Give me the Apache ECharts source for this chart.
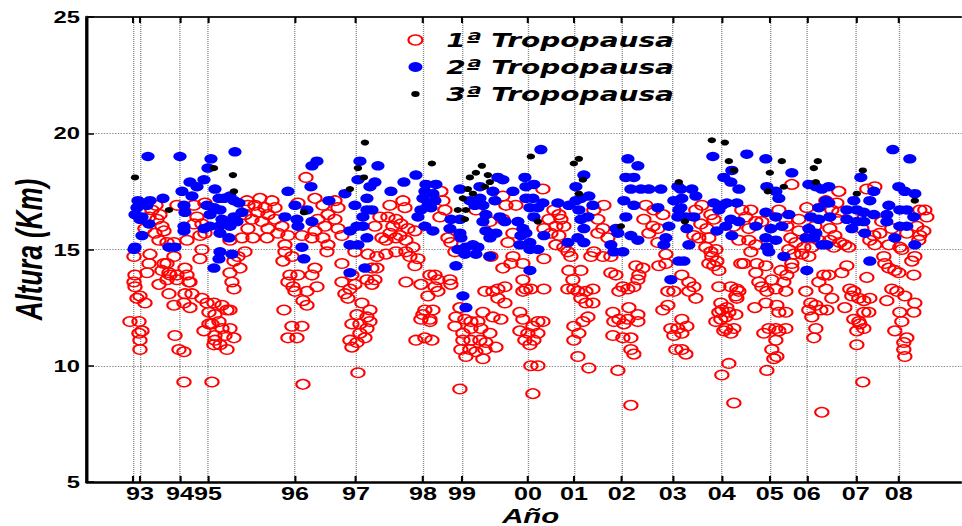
<!DOCTYPE html>
<html>
<head>
<meta charset="utf-8">
<script src="https://cdn.jsdelivr.net/npm/echarts@6/dist/echarts.min.js"></script>
<style>
  html, body { margin: 0; padding: 0; background: #fff; overflow: hidden; }
  /* The figure is laid out narrow and widened horizontally, which gives the oval markers and wide lettering */
  #chart { width: 687px; height: 526px; transform: scaleX(1.4); transform-origin: 0 0; }
</style>
</head>
<body>
<div id="chart"></div>
<script>
// Horizontal axis: sounding sequence number; each year is marked where its soundings begin.
const yearTickPos = [46, 53, 93, 121, 208, 269, 336, 375, 441, 487, 535, 586, 635, 683, 720, 769, 812];
const yearTickLabels = ['', '93', '94', '95', '96', '97', '98', '99', '00', '01', '02', '03', '04', '05', '06', '07', '08'];
const altTicks = [5, 10, 15, 20, 25];
const seriesNames = ['1ª Tropopausa', '2ª Tropopausa', '3ª Tropopausa'];

// [sounding, height km] — first tropopause
const tropo1 = [
  [69,16.9],[90,16.9],[107,16.9],[118,17.0],[65,16.7],[73,16.5],[70,16.3],[62,16.4],[110,16.4],[107,16.1],[115,16.1],[58,15.9],[75,16.0],[77,15.8],[68,15.7],[72,15.4],[80,15.3],[87,15.3],[100,15.4],[113,15.6],[118,15.7],[143,15.4],[47,14.7],[63,14.8],[87,14.7],[115,15.0],[113,14.6],[62,14.4],[77,14.4],[80,14.4],[98,14.2],[147,14.5],[48,13.9],[60,14.0],[75,14.1],[82,14.0],[90,13.9],[100,13.9],[103,13.6],[90,13.7],[83,13.9],[47,13.6],[48,13.4],[72,13.5],[80,13.7],[102,13.6],[143,14.0],[145,13.6],[147,13.3],[53,13.0],[50,12.9],[58,12.7],[82,13.1],[98,13.1],[105,13.1],[87,12.6],[97,12.7],[103,12.5],[115,12.9],[120,12.7],[127,12.7],[135,12.6],[140,12.4],[122,12.3],[128,12.2],[143,12.4],[43,11.9],[52,11.9],[55,11.5],[52,11.4],[53,11.1],[53,10.7],[117,11.5],[122,11.8],[125,11.8],[132,11.9],[135,11.6],[143,11.6],[128,11.3],[128,11.1],[138,11.3],[133,10.9],[127,10.9],[140,10.7],[147,11.2],[88,11.3],[92,10.7],[97,10.6],[97,9.3],[125,9.3],
  [219,18.1],[160,17.1],[173,17.2],[185,17.1],[161,16.9],[168,16.9],[178,16.8],[188,16.8],[171,16.6],[181,16.5],[158,16.5],[211,17.0],[228,17.2],[236,16.9],[248,17.1],[251,16.8],[241,16.5],[231,16.3],[248,16.3],[251,15.9],[238,16.0],[165,16.3],[175,16.2],[188,16.3],[195,16.0],[161,15.9],[181,15.9],[191,15.7],[201,15.6],[155,15.5],[166,15.5],[180,15.5],[198,15.2],[215,15.6],[228,15.8],[225,15.5],[236,15.5],[241,15.2],[240,14.9],[255,15.6],[293,16.4],[288,16.0],[295,15.5],[158,14.9],[151,14.7],[153,14.2],[198,14.9],[205,14.7],[196,14.5],[228,14.2],[255,14.4],[268,14.9],[281,14.8],[290,14.7],[285,14.2],[290,14.2],[203,13.9],[211,13.9],[225,13.9],[201,13.6],[206,13.4],[208,13.2],[220,13.2],[230,13.4],[255,13.6],[265,13.9],[268,13.5],[263,13.3],[258,13.1],[261,12.9],[280,13.7],[288,13.7],[285,13.5],[216,12.8],[220,12.6],[197,12.4],[275,12.7],[283,12.4],[270,12.2],[280,12.1],[265,11.8],[273,11.8],[283,11.9],[280,11.6],[273,11.4],[205,11.7],[215,11.7],[201,11.2],[210,11.2],[263,11.1],[270,11.0],[278,11.2],[265,10.8],[271,9.7],[216,9.2],
  [316,17.1],[318,16.8],[303,16.9],[301,16.4],[309,16.3],[306,16.0],[314,16.1],[321,15.9],[303,15.7],[313,15.6],[299,15.4],[309,15.5],[319,15.4],[328,15.8],[354,17.5],[356,17.1],[358,16.7],[353,16.4],[361,15.5],[364,15.3],[368,14.9],[326,15.1],[319,14.9],[299,14.8],[309,14.9],[323,14.7],[331,14.6],[328,14.3],[343,13.9],[348,13.9],[351,13.7],[363,13.7],[364,13.5],[319,13.6],[334,13.5],[348,13.4],[351,13.2],[341,13.0],[338,12.4],[346,12.4],[336,12.2],[334,12.0],[343,12.0],[343,11.9],[329,11.1],[338,11.2],[345,11.1],[373,12.5],[396,12.3],[369,12.1],[378,12.0],[384,11.9],[391,11.9],[406,12.1],[414,12.0],[368,11.7],[376,11.4],[384,11.6],[394,11.6],[403,11.4],[376,11.1],[384,11.1],[393,11.1],[399,11.0],[374,10.7],[383,10.7],[389,10.6],[396,10.3],[409,10.8],[398,10.7],[379,10.4],[398,13.2],[406,13.2],[411,13.3],[418,13.4],[411,12.9],[418,12.7],[433,12.3],[436,12.0],[433,11.5],[441,11.4],[438,11.1],[443,10.9],[444,10.0],[436,13.2],[439,13.3],[416,14.2],[424,14.4],[426,14.7],[436,14.4],[436,13.7],[421,15.3],[426,15.7],[403,16.2],[416,16.3],[419,16.9],[429,16.9],[404,14.7],[373,9.0],[446,8.8],[416,17.3],[389,16.7],
  [456,17.6],[467,16.7],[472,16.5],[462,16.3],[474,16.3],[457,15.9],[469,16.0],[477,16.0],[464,15.7],[472,15.6],[469,15.2],[477,15.1],[484,14.7],[457,14.6],[481,14.9],[507,16.7],[517,16.9],[511,16.3],[516,15.9],[511,15.7],[521,15.5],[507,14.9],[504,14.7],[516,14.7],[524,14.7],[559,16.9],[567,16.7],[576,16.5],[557,16.3],[566,16.0],[571,15.9],[562,15.7],[572,14.3],[579,14.4],[579,14.8],[571,15.3],[549,14.3],[556,14.2],[552,13.9],[551,13.7],[482,14.1],[494,14.1],[486,13.7],[487,13.3],[481,13.3],[491,13.2],[499,13.2],[506,13.3],[494,12.9],[499,12.7],[506,12.7],[524,14.0],[529,13.9],[536,13.4],[532,13.2],[541,13.3],[547,13.4],[444,13.3],[457,13.3],[581,13.2],[587,13.2],[576,12.4],[581,12.6],[526,12.3],[542,12.5],[551,12.2],[532,12.0],[541,12.0],[527,11.9],[537,11.8],[551,11.9],[526,11.3],[536,11.2],[544,11.2],[544,10.7],[547,10.5],[501,12.1],[496,11.9],[487,11.7],[492,11.4],[487,11.1],[491,10.4],[502,9.9],[531,9.8],[451,11.9],[456,11.9],[446,11.7],[451,11.4],[447,11.1],[451,10.0],[544,8.3],[584,11.6],[591,11.6],[587,11.3],[589,10.7],
  [609,16.7],[615,16.9],[624,16.5],[627,16.3],[614,16.1],[620,15.9],[607,15.6],[612,15.5],[622,15.5],[655,16.7],[664,16.7],[659,16.4],[669,16.2],[662,15.9],[652,15.4],[662,15.4],[669,15.2],[664,14.9],[692,16.7],[705,17.8],[699,16.3],[704,15.5],[709,15.3],[707,14.8],[715,14.8],[717,15.1],[702,15.0],[712,16.3],[720,16.8],[739,17.1],[619,15.1],[624,14.9],[629,15.0],[625,14.7],[630,14.5],[627,14.3],[632,14.1],[622,14.4],[654,14.4],[657,14.4],[670,14.4],[679,14.3],[669,14.0],[694,14.1],[700,13.9],[705,14.2],[705,14.4],[685,13.7],[697,13.6],[699,13.2],[689,13.3],[675,13.4],[672,13.6],[680,13.2],[595,13.9],[602,13.6],[607,13.4],[602,13.2],[609,12.9],[632,13.4],[644,13.4],[650,13.3],[652,13.2],[649,13.0],[650,12.9],[634,12.7],[635,12.4],[640,12.5],[632,12.3],[629,11.9],[634,12.0],[642,12.3],[649,12.2],[639,12.1],[639,11.6],[647,11.6],[644,11.4],[637,11.5],[668,12.5],[679,12.7],[690,12.6],[692,12.3],[699,12.3],[677,11.4],[682,11.6],[689,11.6],[692,11.5],[699,11.6],[689,11.1],[685,10.7],[690,10.4],[687,10.3],[680,9.8],[595,12.0],[600,11.7],[595,11.4],[595,10.7],[599,10.5],[642,10.1],[635,9.6],[647,8.4],[725,15.1],[732,15.4],[722,14.7],[737,13.9],[732,13.6],[739,13.3],[719,13.2],[724,12.7],[729,12.6],[734,12.4],[725,12.1],[722,12.4],[729,11.6],[727,11.2],[735,8.0],[647,16.0],[675,16.2],[700,16.0],[712,15.8],[728,16.0],
  [752,17.5],[788,17.7],[780,17.6],[750,17.0],[745,16.7],[752,16.6],[750,16.3],[743,15.9],[748,15.6],[743,15.4],[753,15.3],[747,15.1],[758,15.2],[762,15.1],[787,15.6],[793,15.7],[783,15.4],[788,15.2],[802,15.2],[813,15.1],[815,15.0],[833,16.7],[838,16.7],[840,16.4],[837,15.8],[833,15.6],[832,15.4],[797,14.7],[798,14.4],[802,14.2],[808,14.1],[812,14.0],[828,14.7],[825,14.5],[827,13.9],[760,14.3],[755,14.0],[780,13.8],[742,13.9],[745,12.9],[740,12.4],[758,12.5],[763,13.3],[767,13.2],[765,13.0],[772,12.9],[777,12.8],[783,12.9],[782,12.3],[777,12.3],[767,12.0],[772,11.9],[773,11.8],[777,11.6],[770,11.5],[770,10.9],[805,13.3],[810,13.2],[818,13.0],[800,12.8],[828,12.7],[827,12.3],[813,12.3],[815,11.9],[808,11.5],[820,11.2],[817,11.0],[817,10.7],[818,10.4],[776,9.3],[765,16.5],[795,16.2],[805,15.9],[820,15.7],[830,16.0],[775,15.9]
];

// second tropopause
const tropo2 = [
  [61,19.0],[93,19.0],[124,18.9],[148,19.2],[121,18.5],[117,18.0],[103,17.9],[110,17.7],[95,17.5],[128,17.6],[105,17.3],[76,17.2],[51,17.1],[63,17.1],[60,16.9],[50,16.8],[48,16.5],[55,16.4],[53,16.3],[97,16.9],[98,16.6],[120,16.9],[127,16.8],[132,17.2],[137,17.2],[143,17.3],[147,17.1],[133,16.7],[123,16.5],[135,16.3],[140,16.2],[147,16.4],[143,16.0],[132,16.0],[123,16.0],[117,15.9],[133,15.7],[142,15.5],[62,16.1],[55,15.6],[97,16.0],[97,15.8],[82,15.1],[88,15.1],[48,15.1],[47,15.0],[133,14.9],[145,14.8],[132,14.6],[127,14.2],
  [230,18.8],[225,18.6],[291,18.6],[273,18.8],[271,18.0],[288,17.9],[283,17.7],[224,17.7],[201,17.5],[258,17.4],[242,17.1],[208,16.9],[220,16.7],[280,17.2],[268,16.9],[285,16.7],[280,16.7],[198,16.4],[210,16.3],[211,16.0],[225,16.2],[276,16.4],[270,16.0],[263,15.8],[276,16.0],[280,15.5],[271,15.2],[263,15.2],[215,15.1],[217,14.6],[278,14.2],[263,14.0],[152,17.0],[155,16.6],[150,16.2],
  [329,18.2],[317,17.9],[304,17.5],[339,17.8],[349,17.8],[338,17.5],[346,17.4],[336,17.2],[348,17.1],[341,16.9],[344,16.8],[334,16.7],[331,16.4],[338,16.0],[346,15.8],[373,17.6],[364,16.3],[373,16.3],[393,17.7],[393,17.2],[396,16.9],[383,17.1],[388,16.9],[399,16.5],[411,18.1],[416,18.0],[406,17.5],[408,17.1],[413,16.4],[396,16.2],[399,15.8],[409,15.7],[403,15.5],[418,16.2],[363,15.9],[373,15.7],[374,15.5],[371,15.0],[379,15.1],[386,15.2],[391,15.1],[378,14.8],[389,14.8],[403,14.7],[369,14.3],[426,17.5],[438,18.1],[439,17.7],[439,17.2],[443,16.8],[431,16.2],[436,15.9],[434,15.6],[439,15.7],[433,15.2],[443,15.3],[443,15.0],[443,14.1],[376,13.0],[379,12.5],
  [454,19.3],[447,17.8],[446,17.2],[456,17.0],[451,16.8],[471,17.0],[447,16.4],[457,15.6],[451,15.0],[481,15.3],[497,18.2],[489,17.7],[502,17.3],[494,17.2],[482,16.9],[489,17.1],[506,16.9],[492,16.7],[501,16.4],[494,16.3],[497,15.9],[491,15.5],[497,15.3],[541,18.9],[551,18.6],[539,18.1],[547,18.1],[544,17.6],[554,17.6],[562,17.6],[574,17.6],[537,17.1],[547,16.9],[539,16.4],[529,15.9],[531,15.7],[544,15.6],[551,15.4],[524,15.2],[527,14.9],[536,14.9],[571,16.8],[591,17.7],[587,17.1],[592,16.7],[591,16.4],[582,16.0],[579,15.5],[577,15.2],[584,13.7],[592,14.5],
  [626,19.0],[660,19.1],[679,18.9],[705,18.3],[645,18.4],[637,18.1],[644,17.9],[652,17.6],[605,17.6],[594,17.6],[595,17.2],[609,17.3],[594,16.8],[599,16.4],[607,16.4],[600,15.9],[627,17.0],[635,16.9],[640,17.0],[650,17.0],[632,16.7],[644,16.3],[652,16.2],[639,16.0],[630,15.8],[645,15.6],[669,16.0],[680,17.7],[689,17.5],[692,17.2],[679,16.6],[689,16.4],[702,16.5],[684,15.9],[695,16.0],[679,15.5],[689,15.4],[680,15.1],[682,14.9],[697,14.7],[722,17.8],[729,17.7],[735,17.6],[732,16.8],[724,16.4],[732,16.3],[722,15.9],[729,15.7],[719,15.5],[727,15.5],[735,15.2],[720,14.1],[602,15.2],[597,14.5],[739,17.1],
  [806,19.3],[823,18.9],[774,18.1],[812,17.7],[787,17.5],[828,17.4],[818,17.5],[767,17.1],[783,17.1],[802,16.9],[760,16.7],[770,16.7],[777,16.6],[787,16.5],[800,16.5],[813,16.7],[820,16.7],[827,16.4],[760,16.3],[770,16.2],[777,16.2],[765,15.9],[778,15.7],[800,16.2],[813,16.0],[820,16.0],[808,15.5],[828,15.2],[783,14.5],[742,17.7],[742,17.0],[743,16.4],[740,15.2]
];

// third tropopause
const tropo3 = [
  [48,18.1],[127,18.5],[146,18.2],[147,17.5],[82,16.7],
  [278,19.6],[271,18.5],[277,18.1],[263,17.6],[217,16.6],
  [345,18.7],[395,18.6],[389,18.3],[383,18.1],[401,18.2],[403,17.9],[398,17.7],[381,17.6],[386,17.4],[376,17.2],[371,16.7],[379,16.7],[378,16.3],[444,19.0],
  [487,18.7],[492,18.9],[496,18.0],[492,17.4],[451,16.2],[534,16.0],[592,17.9],
  [625,19.7],[638,19.6],[642,18.8],[647,18.4],[598,16.2],[683,18.3],[695,18.8],[697,17.7],[681,17.5],[731,18.8],[727,18.5],[729,17.9],
  [776,18.4],[770,17.4],[828,17.1]
];

const labelPos = yearTickPos.filter((p, i) => yearTickLabels[i] !== '');
const labelFor = v => yearTickLabels[yearTickPos.indexOf(v)] || '';

const BOLD = { fontFamily: 'Liberation Sans', fontWeight: 'bold', color: '#000' };
const dotted = () => ({ color: '#8a8a8a', width: 1, type: 'dotted' });

const chart = echarts.init(document.getElementById('chart'), null, { renderer: 'svg' });
chart.setOption({
  animation: false,
  backgroundColor: '#fff',
  grid: { left: 62.14, right: 0, top: 17, bottom: 44, containLabel: false, outerBoundsMode: 'none' },
  legend: {
    orient: 'vertical', left: 291, top: 30, padding: 0,
    itemWidth: 34, itemHeight: 10, itemGap: 7,
    textStyle: { fontFamily: 'DejaVu Sans', fontWeight: 'bold', fontStyle: 'italic', fontSize: 20, color: '#000' },
    data: [
      { name: seriesNames[0], icon: 'circle', itemStyle: { color: 'rgba(0,0,0,0)', borderColor: '#ff0000', borderWidth: 1.5 } },
      { name: seriesNames[1], icon: 'circle', itemStyle: { color: '#0000ff', borderWidth: 0 } },
      { name: seriesNames[2], icon: 'path://M0,0L0,0M10,10L10,10M2,5a3,3 0 1,0 6,0a3,3 0 1,0 -6,0Z', itemStyle: { color: '#000', borderWidth: 0 } }
    ]
  },
  xAxis: [
    {
      type: 'value', min: 0, max: 875, position: 'bottom',
      name: 'Año', nameLocation: 'middle', nameGap: 23, nameMoveOverlap: false,
      nameTextStyle: { fontFamily: 'Liberation Sans', fontWeight: 'bold', fontStyle: 'italic', fontSize: 21, lineHeight: 21, color: '#000', padding: [0, 0, 0, 9] },
      axisLine: { show: true, onZero: false, lineStyle: { color: '#000', width: 2.5 } },
      axisTick: { show: true, inside: true, length: 6, customValues: yearTickPos, lineStyle: { color: '#000', width: 1.5 } },
      axisLabel: Object.assign({ customValues: labelPos, formatter: labelFor, fontSize: 18, lineHeight: 18, margin: 3 }, BOLD),
      splitLine: { show: true, lineStyle: dotted() }
    },
    {
      type: 'value', min: 0, max: 875, position: 'top',
      axisLine: { show: true, onZero: false, lineStyle: { color: '#222', width: 2 } },
      axisTick: { show: true, inside: true, length: 6, customValues: yearTickPos, lineStyle: { color: '#000', width: 1.5 } },
      axisLabel: { show: false },
      splitLine: { show: false }
    }
  ],
  yAxis: {
    type: 'value', min: altTicks[0], max: altTicks[altTicks.length - 1], interval: 5,
    name: 'Altura (Km)', nameLocation: 'middle', nameGap: 28, nameRotate: 90, nameMoveOverlap: false,
    nameTextStyle: { fontFamily: 'Liberation Sans', fontWeight: 'bold', fontStyle: 'italic', fontSize: 26, color: '#000' },
    axisLine: { show: true, lineStyle: { color: '#000', width: 2.4 } },
    axisTick: { show: true, inside: true, length: 5, lineStyle: { color: '#000', width: 1.5 } },
    axisLabel: Object.assign({ fontSize: 17, margin: 5 }, BOLD),
    splitLine: { show: true, lineStyle: dotted() }
  },
  series: [
    {
      name: seriesNames[0], type: 'scatter', data: tropo1, symbol: 'circle', symbolSize: 9.5,
      itemStyle: { color: 'rgba(0,0,0,0)', borderColor: '#ff0000', borderWidth: 1.5, opacity: 1 },
      emphasis: { disabled: true }
    },
    {
      name: seriesNames[1], type: 'scatter', data: tropo2, symbol: 'circle', symbolSize: 9.5,
      itemStyle: { color: '#0000ff', opacity: 1 },
      emphasis: { disabled: true }
    },
    {
      name: seriesNames[2], type: 'scatter', data: tropo3, symbol: 'circle', symbolSize: 6,
      itemStyle: { color: '#000', opacity: 1 },
      emphasis: { disabled: true }
    }
  ]
});
</script>
</body>
</html>
